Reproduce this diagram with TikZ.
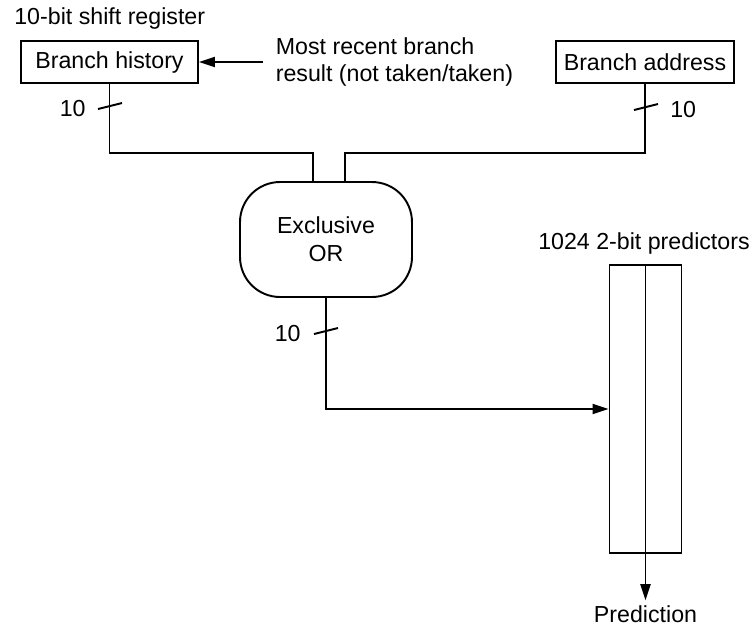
\documentclass[tikz,border=0pt]{standalone}
\usepackage{fontspec}
\setmainfont{Liberation Sans}
\usetikzlibrary{arrows.meta,positioning}

\begin{document}
\begin{tikzpicture}[x=0.02cm,y=-0.02cm,
	every node/.style={font=\fontsize{13.2}{15.4}\selectfont},
	box/.style={draw,line width=1.1pt,inner sep=0pt},
	wire/.style={line width=1.1pt},
	arr/.style={wire,-{Triangle[length=0.32cm,width=0.2cm]}}]

	\useasboundingbox (0,0) rectangle (752,630);

	\node[box,minimum width=3.54cm,minimum height=0.84cm] (hist) at (109.5,62) {Branch history};
	\node[box,minimum width=3.56cm,minimum height=0.84cm] (addr) at (645,62) {Branch address};
	\node[box,rounded corners=0.8cm,minimum width=3.44cm,minimum height=2.3cm,align=center,
		font=\fontsize{13.2}{16}\selectfont] (xor) at (326,239.5) {Exclusive\\OR};
	\node[box,minimum width=1.44cm,minimum height=5.76cm] (pred) at (645.5,409) {};

	\node[anchor=west,inner sep=0pt] (reg) at (14,18) {10-bit shift register};
	\node[anchor=west,align=left,inner ysep=0pt,inner xsep=0.25cm] (recent) at (263,62)
		{Most recent branch\\result (not taken/taken)};
	\node (predt) at (644,243) {1024 2-bit predictors};
	\node[inner sep=2.8pt] (out) at (645.5,614) {Prediction};

	\coordinate (jl) at (313,153);
	\coordinate (jr) at (345,153);

	\draw[wire] (hist.south) |- (jl) -- (jl |- xor.north);
	\draw[wire] (addr.south) |- (jr) -- (jr |- xor.north);
	\draw[arr] (xor.south) |- (pred.west);
	\draw[arr] (recent.west) -- (hist.east);
	\draw[wire] (pred.north) -- (pred.south);
	\draw[arr] (pred.south) -- (out.north);

	% bus widths
	\foreach \x / \y / \a / \d / \n in {
	110/106/east/-24/l,
	646/107/west/24/r,
	326/331/east/-25/o}
	{
		\draw[wire] (\x-12,\y+3) -- (\x+12,\y-3);
		\node[anchor=\a,inner sep=0pt] (bw\n) at (\x+\d,\y+3) {10};
	};
\end{tikzpicture}
\end{document}
